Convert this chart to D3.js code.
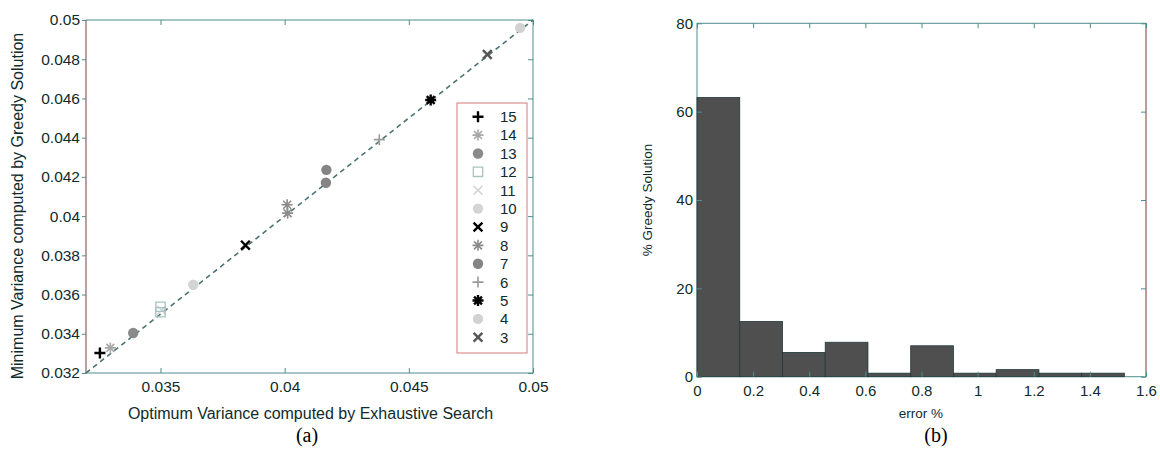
<!DOCTYPE html>
<html>
<head>
<meta charset="utf-8">
<script src="https://cdn.jsdelivr.net/npm/d3@7"></script>
<style>
  html, body { margin: 0; padding: 0; background: #ffffff; }
  svg { display: block; }
  text { font-family: "Liberation Sans", Arial, Helvetica, sans-serif; fill: #0f2b2b; }
  .caption { font-family: "Liberation Serif", "Times New Roman", serif; fill: #000; }
</style>
</head>
<body>
<svg id="chart" width="1160" height="454"></svg>
<script>
// ---- Panel (a): greedy vs exhaustive minimum variance, one series per group size ----
const seriesNames   = ["15", "14", "13", "12", "11", "10", "9", "8", "7", "6", "5", "4", "3"];
const seriesMarkers = ["plus", "star", "circle", "square", "cross", "circle", "cross", "star", "circle", "plus", "star", "circle", "cross"];
const seriesColors  = ["#000000", "#a8a8a8", "#8a8a8a", "#a9c3c3", "#d6d6d6", "#d4d4d4", "#000000", "#8c8c8c", "#848484", "#9a9a9a", "#000000", "#d2d2d2", "#555555"];
// optimum variance (exhaustive search) per series
const optimumVariance = [
  [0.03256],
  [0.03298],
  [0.03390],
  [0.03500, 0.03500],
  [0.03505],
  [0.03632],
  [0.03842],
  [0.04010, 0.04012],
  [0.04168, 0.04166],
  [0.04381],
  [0.04588],
  [0.04948],
  [0.04816]
];
// minimum variance found by the greedy solution per series
const greedyVariance = [
  [0.03302],
  [0.03328],
  [0.03404],
  [0.03538, 0.03510],
  [0.03520],
  [0.03650],
  [0.03852],
  [0.04058, 0.04015],
  [0.04236, 0.04170],
  [0.04390],
  [0.04592],
  [0.04960],
  [0.04824]
];
const xTicksA = [0.035, 0.04, 0.045, 0.05];
const yTicksA = [0.032, 0.034, 0.036, 0.038, 0.04, 0.042, 0.044, 0.046, 0.048, 0.05];

// ---- Panel (b): histogram of greedy error ----
const binEdges   = [0, 0.1523, 0.3046, 0.4569, 0.6092, 0.7615, 0.9138, 1.0661, 1.2184, 1.3707, 1.523];
const binPercent = [63.2, 12.5, 5.5, 7.8, 0.8, 7.0, 0.8, 1.6, 0.8, 0.8];
const xTicksB = [0, 0.2, 0.4, 0.6, 0.8, 1, 1.2, 1.4, 1.6];
const yTicksB = [0, 20, 40, 60, 80];

const svg = d3.select("#chart");
const axisColor = "#4f8e8e";
const redEdge = "#d47878";
const fmt = d => String(+d.toFixed(3));

// marker path generators (centred at 0,0)
function markerPath(type, s) {
  const p = d3.path();
  if (type === "plus") {
    p.moveTo(-s, 0); p.lineTo(s, 0); p.moveTo(0, -s); p.lineTo(0, s);
  } else if (type === "cross") {
    const c = s * 0.8;
    p.moveTo(-c, -c); p.lineTo(c, c); p.moveTo(-c, c); p.lineTo(c, -c);
  } else if (type === "star") {
    const c = s * 0.72;
    p.moveTo(-s, 0); p.lineTo(s, 0); p.moveTo(0, -s); p.lineTo(0, s);
    p.moveTo(-c, -c); p.lineTo(c, c); p.moveTo(-c, c); p.lineTo(c, -c);
  } else if (type === "square") {
    const c = s * 0.85;
    p.rect(-c, -c, 2 * c, 2 * c);
  }
  return p.toString();
}
function drawMarker(g, type, color, cx, cy) {
  if (type === "circle") {
    g.append("circle").attr("cx", cx).attr("cy", cy).attr("r", 5.2).attr("fill", color);
  } else {
    const bold = (color === "#000000" || color === "#555555") ? 2.4 : 1.6;
    g.append("path")
      .attr("transform", `translate(${cx},${cy})`)
      .attr("d", markerPath(type, 5.5))
      .attr("fill", "none")
      .attr("stroke", color)
      .attr("stroke-width", type === "square" ? 1.3 : bold);
  }
}
function styleAxis(g, size) {
  g.select(".domain").remove();
  g.selectAll(".tick line").attr("stroke", axisColor).attr("stroke-width", 1);
  g.selectAll(".tick text").style("font-size", size + "px").attr("fill", "#0f2b2b");
}

// ================= Panel (a) =================
const xA = d3.scaleLinear().domain([0.032, 0.05]).range([86, 533]);
const yA = d3.scaleLinear().domain([0.032, 0.05]).range([373, 20]);
const gA = svg.append("g");

// box
gA.append("rect").attr("x", xA.range()[0]).attr("y", yA.range()[1])
  .attr("width", xA.range()[1] - xA.range()[0]).attr("height", yA.range()[0] - yA.range()[1])
  .attr("fill", "#ffffff").attr("stroke", axisColor).attr("stroke-width", 1);
gA.append("line").attr("x1", xA.range()[0]).attr("x2", xA.range()[0])
  .attr("y1", yA.range()[1]).attr("y2", yA.range()[0]).attr("stroke", redEdge).attr("stroke-width", 1);

// axes
const axBA = gA.append("g").attr("transform", `translate(0,${yA.range()[0]})`)
  .call(d3.axisBottom(xA).tickValues(xTicksA).tickFormat(fmt).tickSizeInner(-5).tickSizeOuter(0).tickPadding(8));
styleAxis(axBA, 15.5);
const axTA = gA.append("g").attr("transform", `translate(0,${yA.range()[1]})`)
  .call(d3.axisTop(xA).tickValues(xTicksA).tickFormat("").tickSizeInner(-5).tickSizeOuter(0));
styleAxis(axTA, 15.5);
const axLA = gA.append("g").attr("transform", `translate(${xA.range()[0]},0)`)
  .call(d3.axisLeft(yA).tickValues(yTicksA).tickFormat(fmt).tickSizeInner(4).tickSizeOuter(0).tickPadding(2));
styleAxis(axLA, 15.5);
const axRA = gA.append("g").attr("transform", `translate(${xA.range()[1]},0)`)
  .call(d3.axisRight(yA).tickValues(yTicksA).tickFormat("").tickSizeInner(-5).tickSizeOuter(0));
styleAxis(axRA, 15.5);

// y = x reference line
gA.append("line")
  .attr("x1", xA(0.032)).attr("y1", yA(0.032)).attr("x2", xA(0.05)).attr("y2", yA(0.05))
  .attr("stroke", "#4a7474").attr("stroke-width", 1.6).attr("stroke-dasharray", "5,4");

// markers, drawn from the smallest group upwards
for (let i = seriesNames.length - 1; i >= 0; i--) {
  optimumVariance[i].forEach((ov, j) => {
    drawMarker(gA, seriesMarkers[i], seriesColors[i], xA(ov), yA(greedyVariance[i][j]));
  });
}

// legend
const legA = gA.append("g");
legA.append("rect").attr("x", 457).attr("y", 103).attr("width", 70).attr("height", 250)
  .attr("fill", "#ffffff").attr("stroke", redEdge).attr("stroke-width", 1);
seriesNames.forEach((name, i) => {
  const cy = 116.7 + i * 18.38;
  drawMarker(legA, seriesMarkers[i], seriesColors[i], 478, cy);
  legA.append("text").attr("x", 500).attr("y", cy).attr("dy", "0.36em")
    .style("font-size", "15px").text(name);
});

// labels
gA.append("text").attr("x", (xA.range()[0] + xA.range()[1]) / 2 + 1).attr("y", 419)
  .attr("text-anchor", "middle").style("font-size", "16px")
  .text("Optimum Variance computed by Exhaustive Search");
gA.append("text").attr("transform", "translate(23,206) rotate(-90)")
  .attr("text-anchor", "middle").style("font-size", "16px")
  .text("Minimum Variance computed by Greedy Solution");
gA.append("text").attr("class", "caption").attr("x", 307).attr("y", 442)
  .attr("text-anchor", "middle").style("font-size", "20px").text("(a)");

// ================= Panel (b) =================
const xB = d3.scaleLinear().domain([0, 1.6]).range([697, 1146]);
const yB = d3.scaleLinear().domain([0, 80]).range([376.7, 23.3]);
const gB = svg.append("g");

gB.append("rect").attr("x", xB.range()[0]).attr("y", yB.range()[1])
  .attr("width", xB.range()[1] - xB.range()[0]).attr("height", yB.range()[0] - yB.range()[1])
  .attr("fill", "#ffffff").attr("stroke", axisColor).attr("stroke-width", 1);
gB.append("line").attr("x1", xB.range()[1]).attr("x2", xB.range()[1])
  .attr("y1", yB.range()[1]).attr("y2", yB.range()[0]).attr("stroke", redEdge).attr("stroke-width", 1.2);

const axTB = gB.append("g").attr("transform", `translate(0,${yB.range()[1]})`)
  .call(d3.axisTop(xB).tickValues(xTicksB).tickFormat("").tickSizeInner(-5).tickSizeOuter(0));
styleAxis(axTB, 15);
const axRB = gB.append("g").attr("transform", `translate(${xB.range()[1]},0)`)
  .call(d3.axisRight(yB).tickValues(yTicksB).tickFormat("").tickSizeInner(-5).tickSizeOuter(0));
styleAxis(axRB, 15);

// histogram bars
gB.selectAll("rect.bar").data(binPercent).join("rect").attr("class", "bar")
  .attr("x", (d, i) => xB(binEdges[i]))
  .attr("width", (d, i) => xB(binEdges[i + 1]) - xB(binEdges[i]))
  .attr("y", d => yB(d))
  .attr("height", d => yB(0) - yB(d))
  .attr("fill", "#4f4f4f").attr("stroke", "#213838").attr("stroke-width", 0.8);

const axBB = gB.append("g").attr("transform", `translate(0,${yB.range()[0]})`)
  .call(d3.axisBottom(xB).tickValues(xTicksB).tickFormat(d => String(+d.toFixed(1))).tickSizeInner(-5).tickSizeOuter(0).tickPadding(8.5));
styleAxis(axBB, 15);
const axLB = gB.append("g").attr("transform", `translate(${xB.range()[0]},0)`)
  .call(d3.axisLeft(yB).tickValues(yTicksB).tickSizeInner(-5).tickSizeOuter(0).tickPadding(4));
styleAxis(axLB, 15);

gB.append("text").attr("x", 921).attr("y", 418)
  .attr("text-anchor", "middle").style("font-size", "13.5px").text("error %");
gB.append("text").attr("transform", "translate(652,200) rotate(-90)")
  .attr("text-anchor", "middle").style("font-size", "13.5px").text("% Greedy Solution");
gB.append("text").attr("class", "caption").attr("x", 936).attr("y", 442)
  .attr("text-anchor", "middle").style("font-size", "20px").text("(b)");
</script>
</body>
</html>
